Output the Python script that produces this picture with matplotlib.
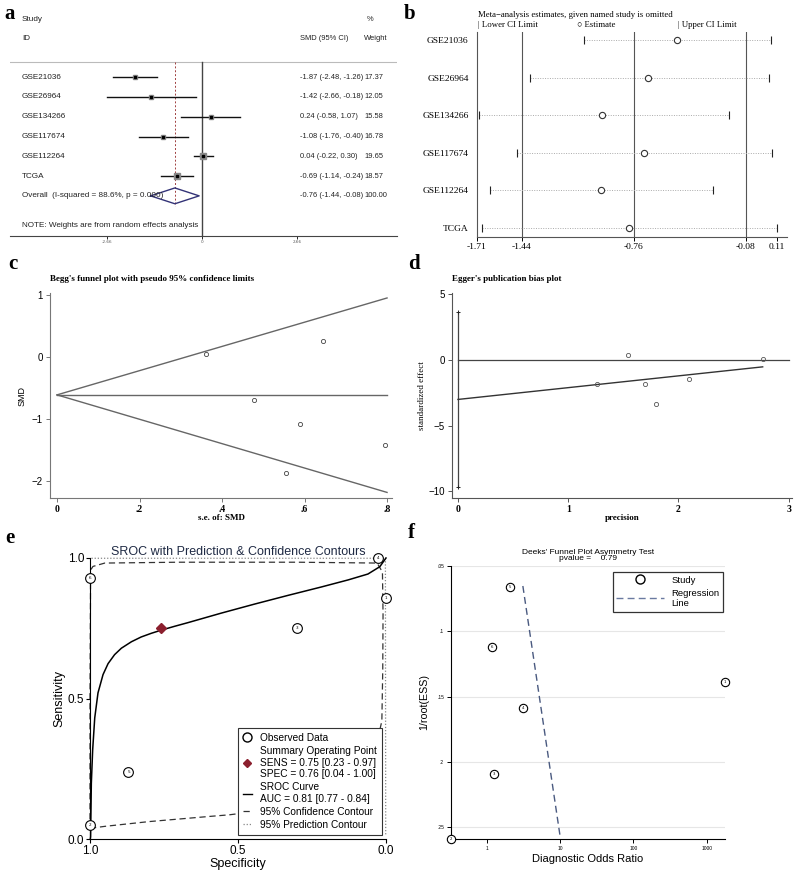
import matplotlib
matplotlib.use('Agg')
import matplotlib.pyplot as plt
from matplotlib.lines import Line2D

W, H = 800, 885
SERIF = 'Liberation Serif'
SANS = 'Liberation Sans'

# ---- panel a: forest plot ----
studies = ['GSE21036', 'GSE26964', 'GSE134266', 'GSE117674', 'GSE112264', 'TCGA']
smd = [-1.87, -1.42, 0.24, -1.08, 0.04, -0.69]
smd_lo = [-2.48, -2.66, -0.58, -1.76, -0.22, -1.14]
smd_hi = [-1.26, -0.18, 1.07, -0.40, 0.30, -0.24]
weights = [17.37, 12.05, 15.58, 16.78, 19.65, 18.57]
overall = [-0.76, -1.44, -0.08]
overall_weight = 100.00
forest_ticks = [-2.66, 0, 2.66]

# ---- panel b: leave-one-out ----
loo_lo = [-1.06, -1.39, -1.70, -1.47, -1.63, -1.68]
loo_est = [-0.50, -0.67, -0.95, -0.70, -0.96, -0.79]
loo_hi = [0.07, 0.06, -0.18, 0.08, -0.28, 0.11]
loo_ticks = [-1.71, -1.44, -0.76, -0.08, 0.11]

# ---- panel c: Begg's funnel ----
begg_se = [0.361, 0.645, 0.477, 0.589, 0.556, 0.794]
begg_smd = [0.05, 0.25, -0.69, -1.08, -1.87, -1.41]
funnel_se = [0, 0.8]
funnel_mid = [-0.61, -0.61]
funnel_up = [-0.61, 0.95]
funnel_low = [-0.61, -2.18]

# ---- panel d: Egger ----
egger_prec = [1.544, 1.263, 1.698, 1.795, 2.094, 2.764]
egger_eff = [0.38, -1.80, -1.85, -3.38, -1.47, 0.10]
egger_reg_x = [0, 2.764]
egger_reg_y = [-3.0, -0.52]
egger_ci = [-9.64, 3.68]

# ---- panel e: SROC ----
obs_spec = [1.0, 0.028, 0.0, 0.299, 0.870, 1.0]
obs_sens = [0.929, 1.0, 0.858, 0.75, 0.237, 0.051]
obs_id = ['6', '4', '1', '3', '5', '2']
summ_spec, summ_sens = 0.76, 0.75
sroc_spec = [0.999, 0.998, 0.9955, 0.991, 0.984, 0.973, 0.956, 0.939, 0.917, 0.894, 0.860,
             0.827, 0.793, 0.757, 0.714, 0.669, 0.556, 0.444, 0.331, 0.218, 0.128, 0.061,
             0.021, 0.0]
sroc_sens = [0.0, 0.008, 0.198, 0.317, 0.431, 0.520, 0.585, 0.624, 0.656, 0.679, 0.702,
             0.719, 0.732, 0.744, 0.757, 0.770, 0.804, 0.836, 0.867, 0.897, 0.922, 0.943,
             0.969, 1.0]
conf_spec = [1.0, 0.95, 0.8, 0.6, 0.53, 0.35, 0.15, 0.04, 0.014, 0.011, 0.01, 0.012, 0.03,
             0.3, 0.7, 0.95, 0.99, 0.998, 1.0, 1.0]
conf_sens = [0.038, 0.045, 0.062, 0.08, 0.086, 0.11, 0.17, 0.3, 0.42, 0.6, 0.8, 0.95, 0.982,
             0.985, 0.985, 0.982, 0.97, 0.957, 0.5, 0.038]
pred_spec = [0.995, 0.002, 0.001]
pred_sens = [0.999, 0.999, 0.01]

# ---- panel f: Deeks ----
deeks_dor = [2.06, 1.17, 1780, 3.10, 1.27, 0.327]
deeks_ess = [0.0658, 0.1117, 0.1387, 0.1583, 0.2092, 0.2589]
deeks_id = ['5', '6', '1', '4', '3', '2']
deeks_reg_x = [3.10, 10.0]
deeks_reg_y = [0.0653, 0.2569]
deeks_yticks = [0.05, 0.1, 0.15, 0.2, 0.25]
deeks_ylabels = ['.05', '.1', '.15', '.2', '.25']

fig = plt.figure(figsize=(W / 100, H / 100), dpi=100)


def add_ax(x0, y0, x1, y1):
    return fig.add_axes([x0 / W, 1 - y1 / H, (x1 - x0) / W, (y1 - y0) / H])


def panel_label(x, y, s):
    fig.text(x / W, 1 - y / H, s, fontsize=15, fontweight='bold', family=SERIF, va='center')


# ================= a =================
ax = add_ax(10, 10, 397, 236)
ax.set_xlim(-5.378, 5.462)
ax.set_ylim(8.03, -3.4)
for s in ['top', 'right', 'left']:
    ax.spines[s].set_visible(False)
ax.spines['bottom'].set_color('#444444')
ax.set_yticks([])
ax.set_xticks(forest_ticks)
ax.set_xticklabels(['-2.66', '0', '2.66'], fontsize=3, color='#555555')
ax.tick_params(axis='x', length=2, width=0.6, pad=1)
ax.plot([-5.378, 5.462], [-0.75, -0.75], color='#bbbbbb', lw=0.8)
ax.plot([0, 0], [-0.75, 8.03], color='#444444', lw=1)
ax.plot([overall[0], overall[0]], [-0.75, 6.5], color='#a04040', lw=0.7, ls=(0, (2, 2)))
fa = dict(fontsize=5.9, family=SANS, color='#222222', va='center')
fn = dict(fontsize=5.4, family=SANS, color='#222222', va='center')
ax.text(-5.04, -2.93, 'Study', **fa)
ax.text(-5.04, -1.97, 'ID', **fa)
ax.text(2.75, -1.97, 'SMD (95% CI)', **fn)
ax.text(4.54, -1.97, 'Weight', **fn)
ax.text(4.62, -2.93, '%', **fn)
for i, name in enumerate(studies):
    ax.plot([smd_lo[i], smd_hi[i]], [i, i], color='#111111', lw=1)
    ax.plot(smd[i], i, 's', color='#888888', ms=weights[i] / 5)
    ax.plot(smd[i], i, 's', color='black', ms=1.8)
    ax.text(-5.04, i, name, **fa)
    ax.text(2.75, i, '%.2f (%.2f, %.2f)' % (smd[i], smd_lo[i], smd_hi[i]), **fn)
    ax.text(4.54, i, '%.2f' % weights[i], **fn)
r = len(studies)
ax.plot([overall[1], overall[0], overall[2], overall[0], overall[1]],
        [r, r - 0.4, r, r + 0.4, r], color='#333377', lw=1)
ax.text(-5.04, r, 'Overall  (I-squared = 88.6%, p = 0.000)', **fa)
ax.text(2.75, r, '%.2f (%.2f, %.2f)' % tuple(overall), **fn)
ax.text(4.54, r, '%.2f' % overall_weight, **fn)
ax.text(-5.04, 7.5, 'NOTE: Weights are from random effects analysis', **fa)
panel_label(4, 14, 'a')

# ================= b =================
ax = add_ax(477, 32, 787, 237)
ax.set_xlim(-1.71, 0.17)
ax.set_ylim(5.24, -0.21)
for s in ['top', 'right']:
    ax.spines[s].set_visible(False)
for s in ['left', 'bottom']:
    ax.spines[s].set_color('#555555')
    ax.spines[s].set_linewidth(0.8)
for v in loo_ticks[1:4]:
    ax.axvline(v, color='#555555', lw=0.8)
for i in range(len(studies)):
    ax.plot([loo_lo[i], loo_hi[i]], [i, i], color='#aaaaaa', lw=0.7, ls=(0, (1, 1.5)))
    ax.plot([loo_lo[i], loo_hi[i]], [i, i], '|', color='#222222', ms=6, mew=0.8)
    ax.plot(loo_est[i], i, 'o', mfc='white', mec='#333333', ms=4.5, mew=0.8)
ax.set_yticks(range(len(studies)))
ax.set_yticklabels(studies, fontsize=6.8, family=SERIF)
ax.tick_params(axis='y', length=0, pad=6)
ax.set_xticks(loo_ticks)
ax.set_xticklabels(['%.2f' % v for v in loo_ticks], fontsize=6.8, family=SERIF)
ax.tick_params(axis='x', length=3, width=0.7, pad=1)
fig.text(478 / W, 1 - 15 / H, 'Meta\u2212analysis estimates, given named study is omitted',
         fontsize=6.3, family=SERIF, va='center')
fig.text(478 / W, 1 - 25 / H, '| Lower CI Limit', fontsize=6.3, family=SERIF, va='center')
fig.text(577 / W, 1 - 25 / H, '\u25cb Estimate', fontsize=6.3, family=SERIF, va='center')
fig.text(678 / W, 1 - 25 / H, '| Upper CI Limit', fontsize=6.3, family=SERIF, va='center')
panel_label(404, 14, 'b')

# ================= c =================
ax = add_ax(50, 293, 392, 498)
ax.set_xlim(-0.017, 0.812)
ax.set_ylim(-2.27, 1.03)
for s in ['top', 'right']:
    ax.spines[s].set_visible(False)
for s in ['left', 'bottom']:
    ax.spines[s].set_color('#777777')
ax.plot(funnel_se, funnel_up, color='#666666', lw=1)
ax.plot(funnel_se, funnel_low, color='#666666', lw=1)
ax.plot(funnel_se, funnel_mid, color='#666666', lw=1)
ax.plot(begg_se, begg_smd, 'o', mfc='none', mec='#444444', ms=3, mew=0.6)
ax.set_xticks([0, 0.2, 0.4, 0.6, 0.8])
ax.set_xticklabels(['0', '.2', '.4', '.6', '.8'], fontsize=7, fontweight='bold', family=SERIF)
ax.set_yticks([1, 0, -1, -2])
ax.set_yticklabels(['1', '0', '\u22121', '\u22122'], fontsize=7, family=SANS)
ax.tick_params(length=3, width=0.7, pad=2, color='#777777')
ax.set_xlabel('s.e. of: SMD', fontsize=6.5, fontweight='bold', family=SERIF, labelpad=0)
ax.set_ylabel('SMD', fontsize=6.5, family=SANS, labelpad=4)
ax.text(0.0, 1.07, "Begg's funnel plot with pseudo 95% confidence limits", transform=ax.transAxes,
        fontsize=6.5, fontweight='bold', family=SERIF, va='center')
panel_label(8, 264, 'c')

# ================= d =================
ax = add_ax(452, 293, 792, 498)
ax.set_xlim(-0.054, 3.03)
ax.set_ylim(-10.5, 5.1)
for s in ['top', 'right']:
    ax.spines[s].set_visible(False)
for s in ['left', 'bottom']:
    ax.spines[s].set_color('#555555')
ax.plot([0, 3.0], [0, 0], color='#444444', lw=0.9)
ax.plot([0, 0], egger_ci, color='#444444', lw=0.9)
ax.plot([0, 0], egger_ci, '+', color='#222222', ms=3.5, mew=0.7)
ax.plot(egger_reg_x, egger_reg_y, color='#333333', lw=1)
ax.plot(egger_prec, egger_eff, 'o', mfc='none', mec='#555555', ms=3, mew=0.6)
ax.set_xticks([0, 1, 2, 3])
ax.set_xticklabels(['0', '1', '2', '3'], fontsize=7, fontweight='bold', family=SERIF)
ax.set_yticks([5, 0, -5, -10])
ax.set_yticklabels(['5', '0', '\u22125', '\u221210'], fontsize=7, family=SANS)
ax.tick_params(length=3, width=0.7, pad=2, color='#555555')
ax.set_xlabel('precision', fontsize=6.5, fontweight='bold', family=SERIF, labelpad=0)
ax.set_ylabel('standardized effect', fontsize=6.5, family=SERIF, labelpad=2)
ax.text(0.0, 1.07, "Egger's publication bias plot", transform=ax.transAxes,
        fontsize=6.5, fontweight='bold', family=SERIF, va='center')
panel_label(408, 264, 'd')

# ================= e =================
ax = add_ax(90, 558, 386, 839)
ax.set_xlim(1.0, 0.0)
ax.set_ylim(0.0, 1.0)
for s in ['top', 'right']:
    ax.spines[s].set_visible(False)
ax.plot(pred_spec, pred_sens, color='#888888', lw=0.9, ls=(0, (1, 1.5)), clip_on=False)
ax.plot(conf_spec, conf_sens, color='#333333', lw=0.9, ls=(0, (5, 3)), clip_on=False)
ax.plot(sroc_spec, sroc_sens, color='black', lw=1.1, clip_on=False)
for sp, se, lab in zip(obs_spec, obs_sens, obs_id):
    ax.plot(sp, se, 'o', mfc='white', mec='black', ms=7, mew=0.8, clip_on=False, zorder=5)
    ax.text(sp, se, lab, fontsize=3, ha='center', va='center', zorder=6)
ax.plot(summ_spec, summ_sens, 'D', color='#8b1f2e', ms=5, zorder=6)
ax.set_xticks([1.0, 0.5, 0.0])
ax.set_yticks([0.0, 0.5, 1.0])
ax.set_xticklabels(['1.0', '0.5', '0.0'], fontsize=8.5, family=SANS)
ax.set_yticklabels(['0.0', '0.5', '1.0'], fontsize=8.5, family=SANS)
ax.tick_params(length=3, width=0.8, pad=1)
ax.set_xlabel('Specificity', fontsize=9, family=SANS, labelpad=1)
ax.set_ylabel('Sensitivity', fontsize=9, family=SANS, labelpad=2)
ax.set_title('SROC with Prediction & Confidence Contours', fontsize=9, family=SANS,
             color='#1f2a44', pad=2)
handles = [
    Line2D([], [], ls='none', marker='o', mfc='white', mec='black', ms=6.5),
    Line2D([], [], ls='none', marker='D', color='#8b1f2e', ms=4.5),
    Line2D([], [], color='black', lw=1),
    Line2D([], [], color='#333333', lw=0.9, ls=(0, (5, 3))),
    Line2D([], [], color='#888888', lw=0.9, ls=(0, (1, 1.5))),
]
labels = ['Observed Data',
          'Summary Operating Point\nSENS = 0.75 [0.23 - 0.97]\nSPEC = 0.76 [0.04 - 1.00]',
          'SROC Curve\nAUC = 0.81 [0.77 - 0.84]',
          '95% Confidence Contour',
          '95% Prediction Contour']
leg = ax.legend(handles, labels, loc='lower right', bbox_to_anchor=(0.986, 0.014), borderaxespad=0,
                frameon=True, fancybox=False, edgecolor='#333333', handlelength=0.9,
                handletextpad=0.8, labelspacing=0.3, borderpad=0.5, framealpha=1,
                prop={'family': SANS, 'size': 7.3})
leg.get_frame().set_linewidth(0.8)
leg.set_zorder(10)
panel_label(5, 538, 'e')

# ================= f =================
ax = add_ax(451, 566, 725, 839)
ax.set_xscale('log')
ax.set_xlim(0.324, 1780)
ax.set_ylim(0.2589, 0.05)
for s in ['top', 'right']:
    ax.spines[s].set_visible(False)
for v in deeks_yticks:
    ax.axhline(v, color='#e6e6e6', lw=0.8, zorder=0)
ax.plot(deeks_reg_x, deeks_reg_y, color='#4a5a80', lw=1, ls=(0, (5, 3)))
for x, y, lab in zip(deeks_dor, deeks_ess, deeks_id):
    ax.plot(x, y, 'o', mfc='white', mec='black', ms=6, mew=0.8, clip_on=False, zorder=5)
    ax.text(x, y, lab, fontsize=2.8, ha='center', va='center', zorder=6)
ax.set_xticks([1, 10, 100, 1000])
ax.set_xticklabels(['1', '10', '100', '1000'], fontsize=3.5, family=SANS)
ax.minorticks_off()
ax.set_yticks(deeks_yticks)
ax.set_yticklabels(deeks_ylabels, fontsize=3.5, family=SANS)
ax.tick_params(length=3, width=0.7, pad=2)
ax.set_xlabel('Diagnostic Odds Ratio', fontsize=8, family=SANS, labelpad=2)
ax.set_ylabel('1/root(ESS)', fontsize=7.7, family=SANS, labelpad=6)
ax.set_title("Deeks' Funnel Plot Asymmetry Test\npvalue =    0.79", fontsize=6, family=SANS,
             linespacing=0.95, pad=4)
handles = [Line2D([], [], ls='none', marker='o', mfc='white', mec='black', ms=6.5),
           Line2D([], [], color='#6a7aa0', lw=1, ls=(0, (5, 3)))]
leg = ax.legend(handles, ['Study', 'Regression\nLine'], loc='upper right', bbox_to_anchor=(0.993, 0.978),
                borderaxespad=0, frameon=True, fancybox=False, edgecolor='#333333', handlelength=5.0,
                handletextpad=0.8, labelspacing=0.4, borderpad=0.4, framealpha=1,
                prop={'family': SANS, 'size': 6.8})
leg.get_frame().set_linewidth(0.9)
panel_label(408, 533, 'f')

fig.savefig('out.png', dpi=100)
